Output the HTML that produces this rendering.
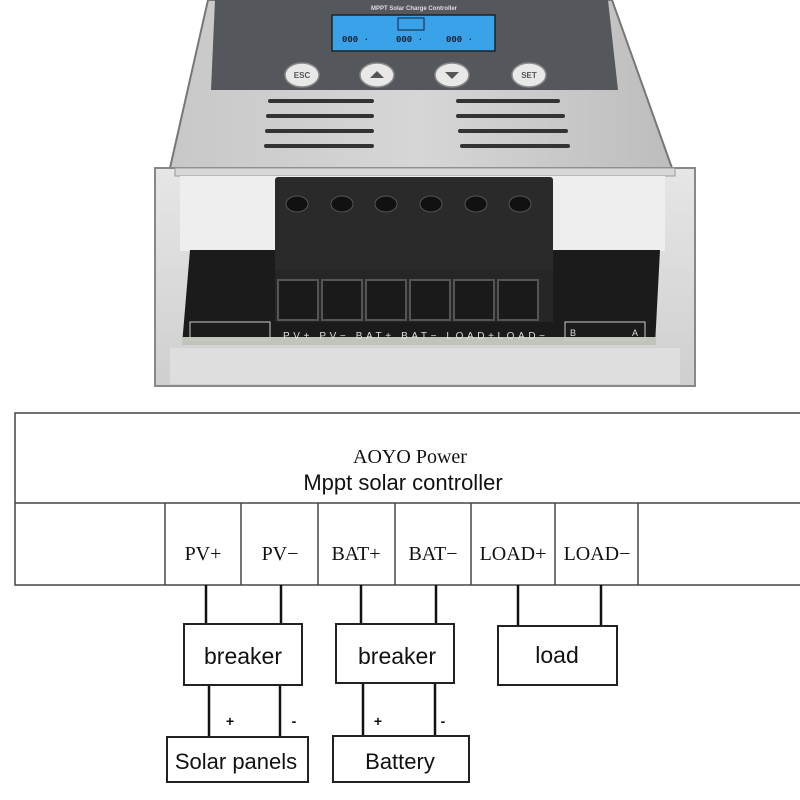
<!DOCTYPE html>
<html><head><meta charset="utf-8"><style>
html,body{margin:0;padding:0;background:#fff;width:800px;height:800px;overflow:hidden}
</style></head><body>
<svg width="800" height="800" viewBox="0 0 800 800" xmlns="http://www.w3.org/2000/svg">
<defs>
<linearGradient id="metal" x1="0" y1="0" x2="1" y2="0">
<stop offset="0" stop-color="#c8c8c8"/><stop offset="0.5" stop-color="#d6d6d6"/><stop offset="1" stop-color="#bdbdbd"/>
</linearGradient>
<linearGradient id="front" x1="0" y1="0" x2="0" y2="1">
<stop offset="0" stop-color="#e6e6e6"/><stop offset="1" stop-color="#cfcfcf"/>
</linearGradient>
</defs>
<!-- case top -->
<polygon points="208,0 612,0 672,168 170,168" fill="url(#metal)" stroke="#777" stroke-width="2"/>
<!-- dark panel -->
<polygon points="215,0 608,0 618,90 211,90" fill="#54585c"/>
<text x="414" y="10" font-family="Liberation Sans,sans-serif" font-size="6" font-weight="bold" fill="#ddd" text-anchor="middle">MPPT Solar Charge Controller</text>
<rect x="332" y="15" width="163" height="36" fill="#3aa2e8" stroke="#222" stroke-width="1.5"/>
<text x="342" y="42" font-family="Liberation Mono,monospace" font-size="9" font-weight="bold" fill="#123">000 ·</text>
<text x="396" y="42" font-family="Liberation Mono,monospace" font-size="9" font-weight="bold" fill="#123">000 ·</text>
<text x="446" y="42" font-family="Liberation Mono,monospace" font-size="9" font-weight="bold" fill="#123">000 ·</text>
<rect x="398" y="18" width="26" height="12" fill="none" stroke="#123" stroke-width="1"/>
<g fill="#e8e8e8" stroke="#888" stroke-width="1.5">
<ellipse cx="302" cy="75" rx="17" ry="12"/><ellipse cx="377" cy="75" rx="17" ry="12"/>
<ellipse cx="452" cy="75" rx="17" ry="12"/><ellipse cx="529" cy="75" rx="17" ry="12"/>
</g>
<text x="302" y="78" font-family="Liberation Sans,sans-serif" font-size="8" font-weight="bold" fill="#555" text-anchor="middle">ESC</text>
<text x="529" y="78" font-family="Liberation Sans,sans-serif" font-size="8" font-weight="bold" fill="#555" text-anchor="middle">SET</text>
<polygon points="370,78 377,71 384,78" fill="#555"/><polygon points="445,72 452,79 459,72" fill="#555"/>
<!-- vents -->
<g stroke="#333" stroke-width="4" stroke-linecap="round">
<line x1="270" y1="101" x2="372" y2="101"/><line x1="268" y1="116" x2="372" y2="116"/>
<line x1="267" y1="131" x2="372" y2="131"/><line x1="266" y1="146" x2="372" y2="146"/>
<line x1="458" y1="101" x2="558" y2="101"/><line x1="458" y1="116" x2="563" y2="116"/>
<line x1="460" y1="131" x2="566" y2="131"/><line x1="462" y1="146" x2="568" y2="146"/>
</g>
<!-- front -->
<rect x="155" y="168" width="540" height="218" fill="url(#front)" stroke="#888" stroke-width="2"/>
<rect x="175" y="168" width="500" height="8" fill="#d8d8d8" stroke="#999"/>
<rect x="180" y="176" width="485" height="75" fill="#eee"/>
<!-- pcb -->
<polygon points="190,250 660,250 655,345 182,345" fill="#1b1b1b"/>
<rect x="182" y="337" width="474" height="8" fill="#bfc6b9"/>
<rect x="170" y="348" width="510" height="36" fill="#dedede"/>
<!-- terminal block -->
<rect x="275" y="177" width="278" height="100" fill="#2a2a2a" rx="3"/>
<rect x="275" y="270" width="278" height="52" fill="#262626"/>
<g fill="#111" stroke="#555">
<ellipse cx="297" cy="204" rx="11" ry="8"/><ellipse cx="342" cy="204" rx="11" ry="8"/>
<ellipse cx="386" cy="204" rx="11" ry="8"/><ellipse cx="431" cy="204" rx="11" ry="8"/>
<ellipse cx="476" cy="204" rx="11" ry="8"/><ellipse cx="520" cy="204" rx="11" ry="8"/>
</g>
<g fill="#1a1a1a" stroke="#555" stroke-width="2">
<rect x="278" y="280" width="40" height="40"/><rect x="322" y="280" width="40" height="40"/>
<rect x="366" y="280" width="40" height="40"/><rect x="410" y="280" width="40" height="40"/>
<rect x="454" y="280" width="40" height="40"/><rect x="498" y="280" width="40" height="40"/>
</g>
<text x="283" y="339" font-family="Liberation Sans,sans-serif" font-size="10" fill="#ddd" textLength="262">PV+  PV−  BAT+ BAT− LOAD+LOAD−</text>
<g fill="none" stroke="#ccc" stroke-width="1">
<rect x="190" y="322" width="80" height="18"/><rect x="565" y="322" width="80" height="18"/>
</g>
<text x="570" y="336" font-family="Liberation Sans,sans-serif" font-size="9" fill="#ddd">B</text>
<text x="632" y="336" font-family="Liberation Sans,sans-serif" font-size="9" fill="#ddd">A</text>

<!-- diagram -->
<g fill="none" stroke="#444" stroke-width="1.5">
<rect x="15" y="413" width="800" height="172"/>
<line x1="15" y1="503" x2="800" y2="503"/>
<line x1="165" y1="503" x2="165" y2="585"/><line x1="241" y1="503" x2="241" y2="585"/>
<line x1="318" y1="503" x2="318" y2="585"/><line x1="395" y1="503" x2="395" y2="585"/>
<line x1="471" y1="503" x2="471" y2="585"/><line x1="555" y1="503" x2="555" y2="585"/>
<line x1="638" y1="503" x2="638" y2="585"/>
</g>
<g stroke="#111" stroke-width="2.5">
<line x1="206" y1="585" x2="206" y2="624"/><line x1="281" y1="585" x2="281" y2="624"/>
<line x1="361" y1="585" x2="361" y2="624"/><line x1="436" y1="585" x2="436" y2="624"/>
<line x1="518" y1="585" x2="518" y2="626"/><line x1="601" y1="585" x2="601" y2="626"/>
<line x1="209" y1="685" x2="209" y2="737"/><line x1="280" y1="685" x2="280" y2="737"/>
<line x1="363" y1="683" x2="363" y2="736"/><line x1="435" y1="683" x2="435" y2="736"/>
</g>
<g fill="#fff" stroke="#222" stroke-width="2">
<rect x="184" y="624" width="118" height="61"/><rect x="336" y="624" width="118" height="59"/>
<rect x="498" y="626" width="119" height="59"/>
<rect x="167" y="737" width="141" height="45"/><rect x="333" y="736" width="136" height="46"/>
</g>
<g font-family="Liberation Sans,sans-serif" fill="#111" text-anchor="middle">
<text x="410" y="463" font-family="Liberation Serif,serif" font-size="20">AOYO Power</text>
<text x="403" y="490" font-size="22">Mppt solar controller</text>
<text x="243" y="664" font-size="23">breaker</text>
<text x="397" y="664" font-size="23">breaker</text>
<text x="557" y="663" font-size="23">load</text>
<text x="236" y="769" font-size="22">Solar panels</text>
<text x="400" y="769" font-size="22">Battery</text>
<text x="230" y="726" font-size="14" font-weight="bold">+</text>
<text x="294" y="726" font-size="14" font-weight="bold">-</text>
<text x="378" y="726" font-size="14" font-weight="bold">+</text>
<text x="443" y="726" font-size="14" font-weight="bold">-</text>
</g>
<g font-family="Liberation Serif,serif" font-size="20" fill="#111" text-anchor="middle">
<text x="203" y="560">PV+</text><text x="280" y="560">PV−</text>
<text x="356" y="560">BAT+</text><text x="433" y="560">BAT−</text>
<text x="513" y="560">LOAD+</text><text x="597" y="560">LOAD−</text>
</g>
</svg>
</body></html>
